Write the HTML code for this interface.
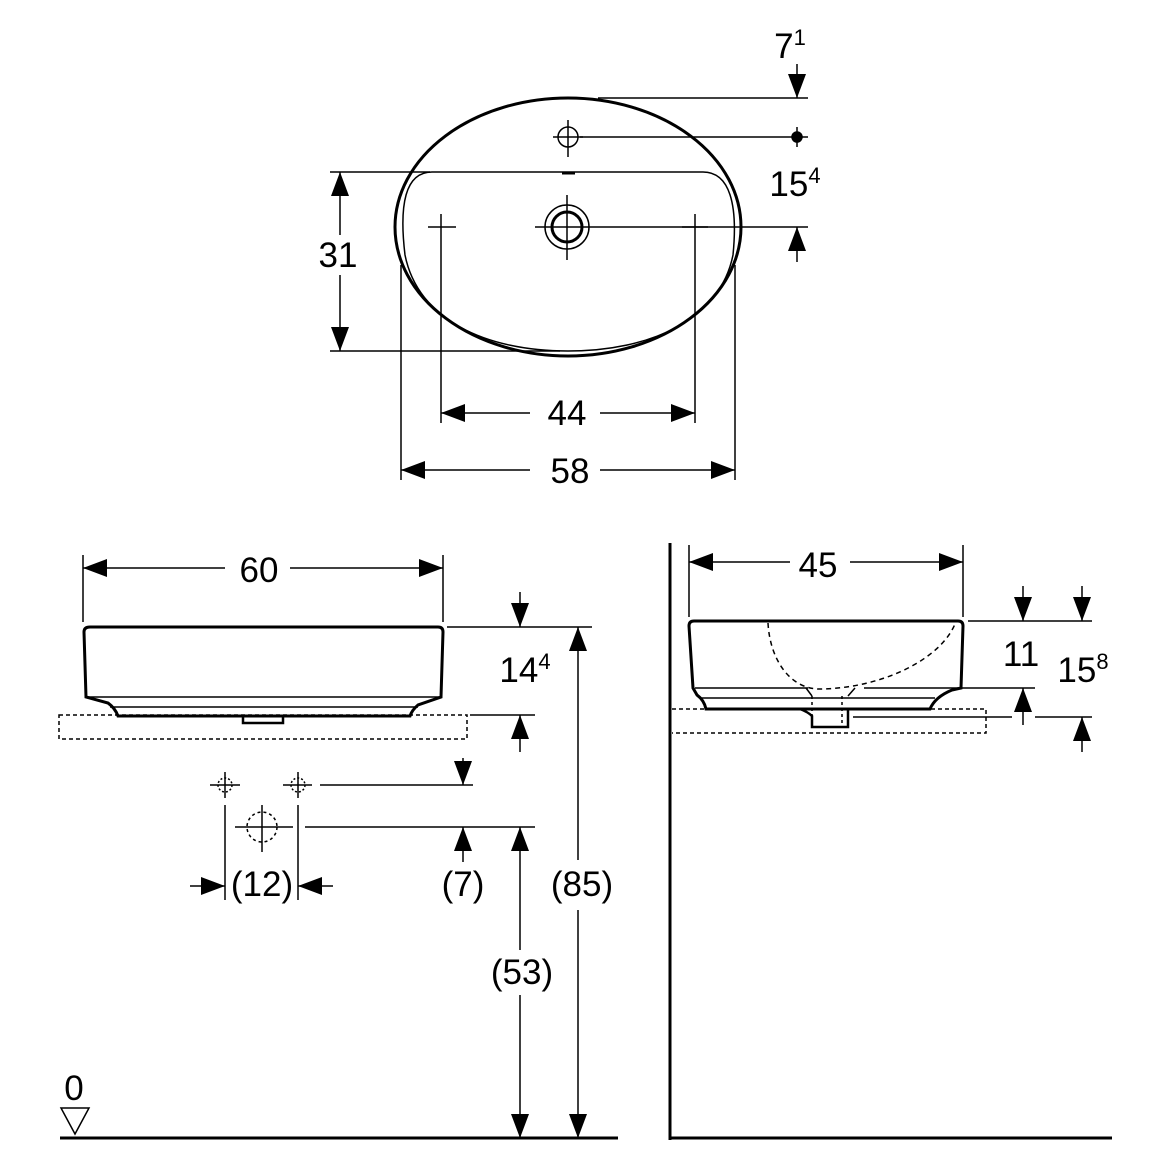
<!DOCTYPE html>
<html><head><meta charset="utf-8"><style>html,body{margin:0;padding:0;background:#fff}svg{display:block}</style></head>
<body>
<svg width="1170" height="1170" viewBox="0 0 1170 1170" xmlns="http://www.w3.org/2000/svg" font-family="Liberation Sans, sans-serif" font-size="35" fill="none" stroke="#000">
<defs>
<marker id="a" viewBox="0 0 24 18" refX="24" refY="9" markerWidth="24" markerHeight="18" markerUnits="userSpaceOnUse" orient="auto-start-reverse"><path d="M0,0 L24,9 L0,18 Z" fill="#000" stroke="none"/></marker>
</defs>
<g stroke-width="1.5">
<!-- TOP VIEW -->
<ellipse cx="568" cy="227" rx="173" ry="129" stroke-width="3"/>
<path d="M432,172 H703 C730,172 738,205 733,255 C720,320 650,351 568,351 C486,351 418,320 405,255 C399,205 405,172 432,172 Z"/>
<line x1="562" y1="173" x2="575" y2="173" stroke-width="3"/>
<circle cx="568" cy="137" r="10"/><line x1="553" y1="137" x2="583" y2="137"/><line x1="568" y1="120" x2="568" y2="157"/>
<circle cx="567" cy="227" r="22"/><circle cx="567" cy="227" r="15" stroke-width="3"/>
<line x1="535" y1="227" x2="605" y2="227"/><line x1="567" y1="195" x2="567" y2="260"/>
<line x1="428" y1="227" x2="456" y2="227"/><line x1="441" y1="214" x2="441" y2="240"/>
<line x1="682" y1="227" x2="708" y2="227"/><line x1="695" y1="214" x2="695" y2="240"/>
<!-- 31 -->
<line x1="330" y1="172" x2="430" y2="172"/><line x1="330" y1="351" x2="560" y2="351"/>
<line x1="340" y1="235" x2="340" y2="172" marker-end="url(#a)"/><line x1="340" y1="275" x2="340" y2="351" marker-end="url(#a)"/>
<!-- 44 -->
<line x1="441" y1="240" x2="441" y2="423"/><line x1="695" y1="240" x2="695" y2="423"/>
<line x1="530" y1="413" x2="441" y2="413" marker-end="url(#a)"/><line x1="600" y1="413" x2="695" y2="413" marker-end="url(#a)"/>
<!-- 58 -->
<line x1="401" y1="265" x2="401" y2="480"/><line x1="735" y1="265" x2="735" y2="480"/>
<line x1="530" y1="470" x2="401" y2="470" marker-end="url(#a)"/><line x1="600" y1="470" x2="735" y2="470" marker-end="url(#a)"/>
<!-- right dims top -->
<line x1="598" y1="98" x2="808" y2="98"/><line x1="797" y1="64" x2="797" y2="98" marker-end="url(#a)"/>
<line x1="580" y1="137" x2="808" y2="137"/><circle cx="797" cy="137" r="5" fill="#000"/><line x1="797" y1="127" x2="797" y2="147"/>
<line x1="605" y1="227" x2="808" y2="227"/><line x1="797" y1="262" x2="797" y2="227" marker-end="url(#a)"/>

<!-- FRONT VIEW -->
<path d="M90,627 H438 Q443,627 443,632 L441,697 L418,705 Q412,710 410,716 H118 Q115,708 108,703 L86,697 L84,632 Q84,627 90,627 Z" stroke-width="3"/>
<line x1="87" y1="697" x2="440" y2="697"/><line x1="110" y1="707" x2="418" y2="707"/>
<path d="M243,716 V723 H283 V716" stroke-width="2.5"/>
<rect x="59" y="715" width="408" height="24" stroke-dasharray="4,3"/>
<line x1="83" y1="555" x2="83" y2="622"/><line x1="443" y1="555" x2="443" y2="622"/>
<line x1="225" y1="568" x2="83" y2="568" marker-end="url(#a)"/><line x1="290" y1="568" x2="443" y2="568" marker-end="url(#a)"/>
<line x1="447" y1="627" x2="592" y2="627"/><line x1="520" y1="592" x2="520" y2="627" marker-end="url(#a)"/>
<line x1="470" y1="715" x2="535" y2="715"/><line x1="520" y1="752" x2="520" y2="715" marker-end="url(#a)"/>
<line x1="578" y1="860" x2="578" y2="627" marker-end="url(#a)"/><line x1="578" y1="910" x2="578" y2="1138" marker-end="url(#a)"/>
<line x1="463" y1="758" x2="463" y2="785" marker-end="url(#a)"/><line x1="320" y1="785" x2="473" y2="785"/>
<line x1="210" y1="785" x2="240" y2="785"/><line x1="225" y1="772" x2="225" y2="798"/><circle cx="225" cy="785" r="7" stroke-dasharray="2,2"/>
<line x1="283" y1="785" x2="312" y2="785"/><line x1="298" y1="772" x2="298" y2="798"/><circle cx="298" cy="785" r="7" stroke-dasharray="2,2"/>
<circle cx="262" cy="827" r="15" stroke-dasharray="3,3"/><line x1="235" y1="827" x2="293" y2="827"/><line x1="262" y1="805" x2="262" y2="852"/>
<line x1="305" y1="827" x2="535" y2="827"/>
<line x1="463" y1="862" x2="463" y2="827" marker-end="url(#a)"/>
<line x1="520" y1="950" x2="520" y2="827" marker-end="url(#a)"/><line x1="520" y1="995" x2="520" y2="1138" marker-end="url(#a)"/>
<line x1="225" y1="805" x2="225" y2="900"/><line x1="298" y1="805" x2="298" y2="900"/>
<line x1="190" y1="886" x2="225" y2="886" marker-end="url(#a)"/><line x1="333" y1="886" x2="298" y2="886" marker-end="url(#a)"/>
<line x1="60" y1="1138" x2="618" y2="1138" stroke-width="3"/>
<path d="M61,1108 H89 L75,1134 Z"/>

<!-- SIDE VIEW -->
<line x1="670" y1="543" x2="670" y2="1140" stroke-width="3"/>
<line x1="670" y1="1138" x2="1112" y2="1138" stroke-width="3"/>
<line x1="689" y1="545" x2="689" y2="617"/><line x1="963" y1="545" x2="963" y2="617"/>
<line x1="790" y1="562" x2="689" y2="562" marker-end="url(#a)"/><line x1="850" y1="562" x2="963" y2="562" marker-end="url(#a)"/>
<path d="M694,621 H958 Q963,621 963,626 L961,688 L952,690 Q935,697 930,709 H706 Q704,700 697,695 L693,688 L689,626 Q689,621 694,621 Z" stroke-width="3"/>
<line x1="695" y1="688" x2="808" y2="688"/><line x1="864" y1="688" x2="1035" y2="688"/>
<line x1="700" y1="698" x2="935" y2="698"/>
<path d="M768,623 C770,660 790,688 818,689 C880,689 940,660 955,624" stroke-dasharray="5,4"/>
<path d="M806,688 L812,696 M855,688 L848,696" />
<path d="M800,709 Q808,712 812,716 L812,727 H848 V709" stroke-width="2.5"/>
<line x1="812" y1="696" x2="812" y2="716" stroke-dasharray="3,3"/><line x1="842" y1="696" x2="842" y2="727" stroke-dasharray="3,3"/>
<path d="M672,709 H986 V733 H672" stroke-dasharray="4,3"/>
<line x1="853" y1="717" x2="1012" y2="717"/><line x1="1035" y1="717" x2="1092" y2="717"/>
<line x1="968" y1="621" x2="1092" y2="621"/>
<line x1="1023" y1="586" x2="1023" y2="621" marker-end="url(#a)"/>
<line x1="1023" y1="725" x2="1023" y2="688" marker-end="url(#a)"/>
<line x1="1082" y1="586" x2="1082" y2="621" marker-end="url(#a)"/>
<line x1="1082" y1="752" x2="1082" y2="717" marker-end="url(#a)"/>
</g>
<g fill="#000" stroke="none" text-anchor="middle">
<text x="338" y="267">31</text>
<text x="567" y="425">44</text>
<text x="570" y="483">58</text>
<text x="790" y="58">7<tspan font-size="22" dy="-13">1</tspan></text>
<text x="795" y="196">15<tspan font-size="22" dy="-13">4</tspan></text>
<text x="259" y="582">60</text>
<text x="525" y="682">14<tspan font-size="22" dy="-13">4</tspan></text>
<text x="582" y="896">(85)</text>
<text x="463" y="896">(7)</text>
<text x="262" y="896">(12)</text>
<text x="522" y="984">(53)</text>
<text x="74" y="1100">0</text>
<text x="818" y="577">45</text>
<text x="1021" y="666">11</text>
<text x="1083" y="682">15<tspan font-size="22" dy="-13">8</tspan></text>
</g>
</svg>
</body></html>
